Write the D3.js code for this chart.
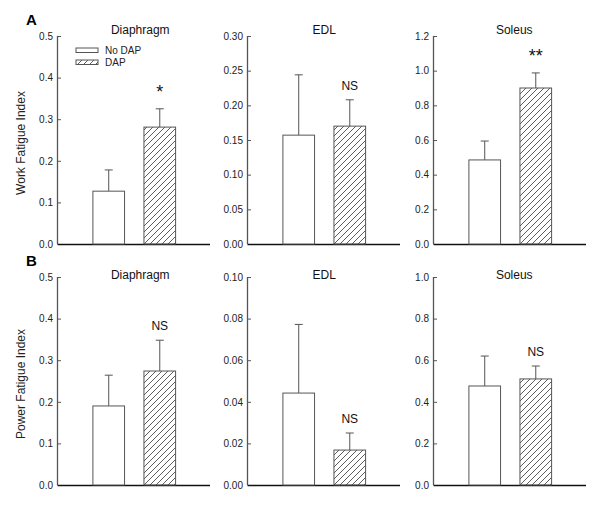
<!DOCTYPE html>
<html><head><meta charset="utf-8">
<script src="https://cdn.jsdelivr.net/npm/d3@7"></script>
<style>body{margin:0;background:#fff}svg{display:block;font-family:Arial,"Liberation Sans",sans-serif}</style>
</head><body><svg id="c" width="600" height="506"></svg>
<script>
// ---- data ----
const muscles = ["Diaphragm", "EDL", "Soleus"];
const groups = ["No DAP", "DAP"];
const workNoDAP = [0.127, 0.157, 0.485];
const workDAP = [0.281, 0.170, 0.900];
const workNoDAPErr = [0.051, 0.087, 0.109];
const workDAPErr = [0.044, 0.038, 0.087];
const workSig = ["*", "NS", "**"];
const workMax = [0.5, 0.30, 1.2];
const workStep = [0.1, 0.05, 0.2];
const workTickFmt = [".1f", ".2f", ".1f"];

const powerNoDAP = [0.190, 0.0442, 0.476];
const powerDAP = [0.274, 0.0168, 0.510];
const powerNoDAPErr = [0.074, 0.033, 0.144];
const powerDAPErr = [0.074, 0.0082, 0.062];
const powerSig = ["NS", "NS", "NS"];
const powerMax = [0.5, 0.10, 1.0];
const powerStep = [0.1, 0.02, 0.2];
const powerTickFmt = [".1f", ".2f", ".1f"];

const rows = [
  {label: "A", ylab: "Work Fatigue Index", noDap: workNoDAP, dap: workDAP, noErr: workNoDAPErr, dapErr: workDAPErr, sig: workSig, max: workMax, step: workStep, fmt: workTickFmt},
  {label: "B", ylab: "Power Fatigue Index", noDap: powerNoDAP, dap: powerDAP, noErr: powerNoDAPErr, dapErr: powerDAPErr, sig: powerSig, max: powerMax, step: powerStep, fmt: powerTickFmt}
];

// ---- layout ----
const svg = d3.select("#c");
const panelX = [58, 248, 434];
const titleDx = [6, 0, 4];
const panelW = 152;
const rowTop = [36, 277];
const plotH = 208;
const axisCol = "#555";

const defs = svg.append("defs");
const pat = defs.append("pattern").attr("id", "hatch").attr("patternUnits", "userSpaceOnUse")
  .attr("width", 6).attr("height", 6);
pat.append("path").attr("d", "M-1,1 L1,-1 M0,6 L6,0 M5,7 L7,5")
  .attr("stroke", "#333").attr("stroke-width", 0.8).attr("fill", "none");

const xb = d3.scaleBand().domain(groups).range([15.5, 137]).paddingInner(0.38).paddingOuter(0.38);

rows.forEach((r, ri) => {
  const top = rowTop[ri];
  svg.append("text").attr("x", 26).attr("y", top - 11).attr("font-size", 15).attr("font-weight", "bold").text(r.label);
  svg.append("text").attr("transform", `translate(25,${top + plotH / 2 + 3}) rotate(-90)`)
    .attr("text-anchor", "middle").attr("font-size", 12).attr("fill", "#222").text(r.ylab);

  muscles.forEach((m, i) => {
    const g = svg.append("g").attr("transform", `translate(${panelX[i]},${top})`);
    const y = d3.scaleLinear().domain([0, r.max[i]]).range([plotH, 0]);
    const ticks = d3.range(0, r.max[i] + r.step[i] / 2, r.step[i]);
    const ax = g.append("g").call(d3.axisLeft(y).tickValues(ticks).tickFormat(d3.format(r.fmt[i])).tickSize(-3).tickPadding(5));
    ax.select(".domain").attr("stroke", axisCol).attr("stroke-width", 1.3).attr("d", `M-0.5,0V${plotH}`);
    ax.selectAll(".tick line").attr("stroke", axisCol);
    ax.selectAll(".tick text").attr("font-size", 10).attr("fill", "#222").attr("font-family", "Arial, 'Liberation Sans', sans-serif");
    g.append("line").attr("x1", -0.5).attr("x2", panelW).attr("y1", plotH + 0.5).attr("y2", plotH + 0.5).attr("stroke", "#111").attr("stroke-width", 1.3);

    const vals = [r.noDap[i], r.dap[i]];
    const errs = [r.noErr[i], r.dapErr[i]];
    groups.forEach((grp, gi) => {
      const x0 = xb(grp), w = xb.bandwidth(), cx = x0 + w / 2;
      const yt = y(vals[gi]), ye = y(vals[gi] + errs[gi]);
      g.append("line").attr("x1", cx).attr("x2", cx).attr("y1", yt).attr("y2", ye).attr("stroke", "#555");
      g.append("line").attr("x1", cx - 4).attr("x2", cx + 4).attr("y1", ye).attr("y2", ye).attr("stroke", "#555");
      g.append("rect").attr("x", x0).attr("y", yt).attr("width", w).attr("height", plotH - yt)
        .attr("fill", gi === 0 ? "#fff" : "url(#hatch)").attr("stroke", "#555").attr("stroke-width", 1);
      if (gi === 1) {
        const s = r.sig[i];
        const isStar = s.indexOf("*") >= 0;
        g.append("text").attr("x", cx).attr("y", isStar ? ye - 11 : ye - 10)
          .attr("text-anchor", "middle").attr("font-size", isStar ? 18 : 12).attr("fill", "#111").text(s);
      }
    });
    g.append("text").attr("x", (xb("No DAP") + xb("DAP") + xb.bandwidth()) / 2 + titleDx[i]).attr("y", ri === 0 ? -2 : 2)
      .attr("text-anchor", "middle").attr("font-size", 12).attr("fill", "#111").text(m);

    if (ri === 0 && i === 0) {
      const lg = g.append("g").attr("transform", "translate(18,12)");
      groups.forEach((grp, gi) => {
        lg.append("rect").attr("x", 0).attr("y", gi * 12).attr("width", 22).attr("height", 4.5)
          .attr("fill", gi === 0 ? "#fff" : "url(#hatch)").attr("stroke", "#555");
        lg.append("text").attr("x", 29).attr("y", gi * 12 + 5.5).attr("font-size", 10).attr("fill", "#222").text(grp);
      });
    }
  });
});
</script></body></html>
